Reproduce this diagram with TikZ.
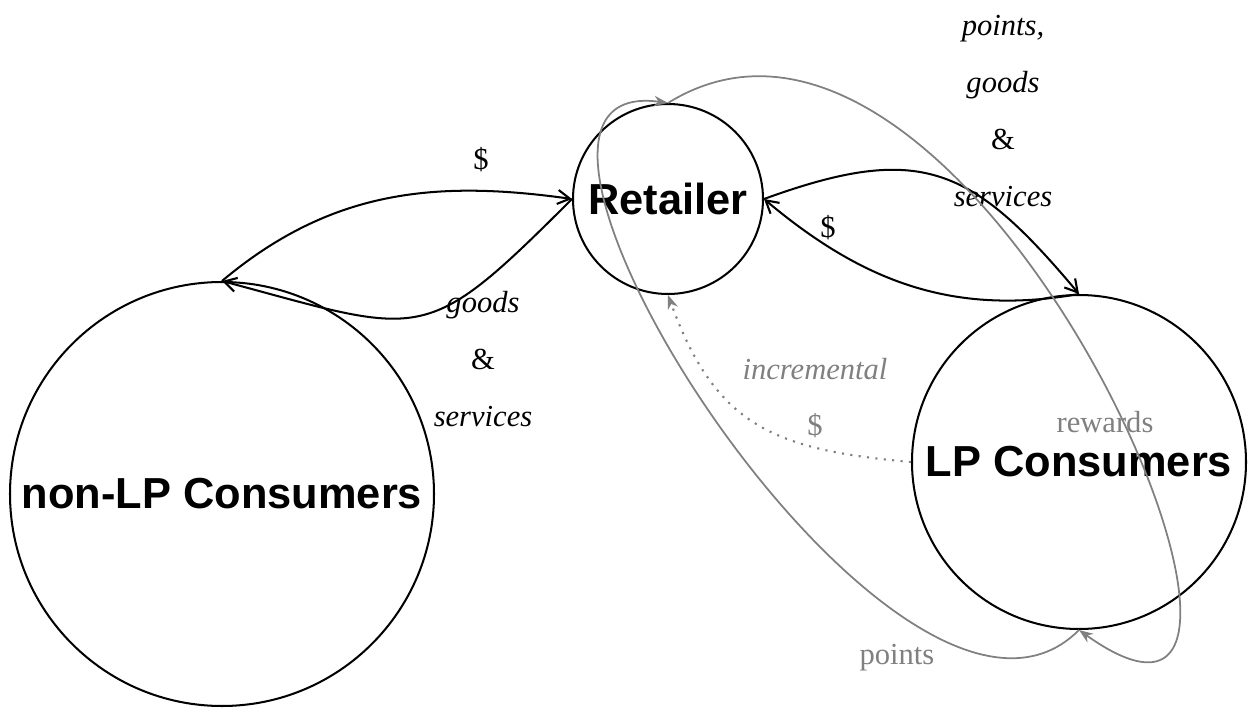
\documentclass[tikz,border=0pt]{standalone}
\usepackage{fontspec}
\setmainfont{Liberation Serif}
\setsansfont{Liberation Sans}
\usepackage{tikz}
\usetikzlibrary{arrows.meta,positioning}
\usepackage{xcolor}
\definecolor{flowcol}{RGB}{0,0,0}
\definecolor{perkcol}{RGB}{128,128,128}
\tikzset{
  % party circle
  party/.style={circle, draw=black, line width=1.15pt, inner sep=0pt, minimum size=#1,
                font=\sffamily\bfseries\fontsize{24.7}{28}\selectfont},
  % money / goods flow
  flow/.style={-{Straight Barb[length=7pt,width=8pt,line width=1.2pt]}, line width=1.15pt, draw=flowcol},
  % loyalty flow
  perk/.style={-{Stealth[length=8pt,width=6pt]}, line width=1pt, draw=perkcol},
  % incremental spend
  extra/.style={perk, line width=1.2pt, dash pattern=on 1.2pt off 3.6pt},
  % edge labels
  flowlabel/.style={font=\fontsize{17.4}{32.3}\selectfont, align=center, text=#1, inner sep=0pt},
  flowlabel/.default={black},
}
\begin{document}
\begin{tikzpicture}
  \useasboundingbox (0,0) rectangle (25.02,14.14);

  % ── parties ──
  \node[party=3.8cm]  (retailer) at (13.36,10.16) {Retailer};
  \node[party=8.48cm] (nonlp)    at (4.44,4.26)   {non-LP Consumers};
  \node[party=6.68cm] (lp)       at (21.58,4.90)  {LP Consumers};

  % ── non-LP consumers <-> retailer ──
  \draw[flow] (nonlp.north) to[out=40, in=172] (retailer.west);
  \draw[flow] (retailer.west) to[out=225, in=-15, looseness=1.5] (nonlp.north);
  \node[flowlabel] (cashA) at (9.62,10.94) {\$};
  \node[flowlabel] (goodsA) at (9.66,6.96) {\itshape goods\\ \&\\ \itshape services};

  % ── LP consumers <-> retailer ──
  \draw[flow] (retailer.east) to[out=20, in=130, looseness=1.3] (lp.north);
  \draw[flow] (lp.north) to[out=190, in=-40] (retailer.east);
  \node[flowlabel] (goodsB) at (20.06,11.92) {\itshape points,\\ \itshape goods\\ \&\\ \itshape services};
  \node[flowlabel] (cashB) at (16.56,9.58) {\$};

  % ── loyalty programme ──
  \draw[perk] (retailer.north) .. controls (19.6,15.94) and (27.2,-2.46) .. (lp.south);
  \draw[perk] (lp.south) .. controls (18,-2.06) and (8.6,12.74) .. (retailer.north);
  \node[flowlabel=perkcol] (rewards) at (22.1,5.7) {rewards};
  \node[flowlabel=perkcol] (points) at (17.94,0.98) {points};

  % incremental spend
  \draw[extra] (lp.west) to[out=175, in=-70, looseness=1.2] (retailer.south);
  \node[flowlabel=perkcol] (cashC) at (16.3,6.18) {\itshape incremental\\ \$};

\end{tikzpicture}
\end{document}
